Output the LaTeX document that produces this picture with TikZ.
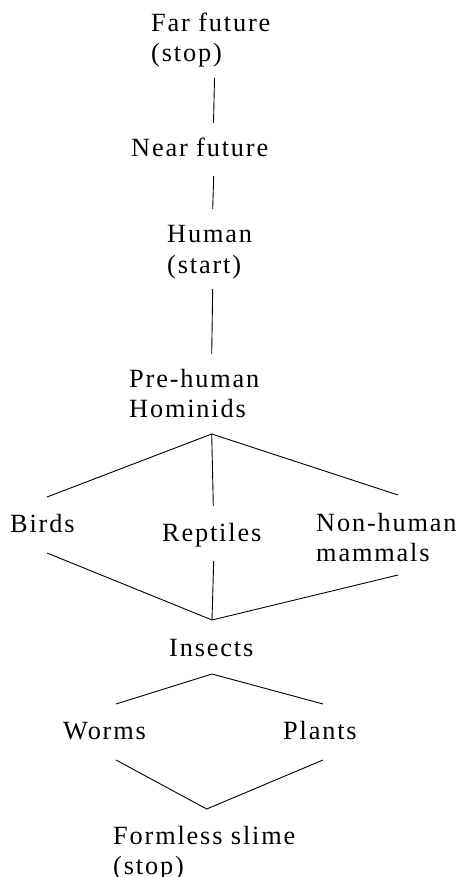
\documentclass[tikz,border=0pt]{standalone}
\usepackage{fontspec}
\setmainfont{Liberation Serif}[LetterSpace=7]
\begin{document}
\begin{tikzpicture}[x=1pt,y=-1pt,
  lbl/.style={anchor=base west,inner sep=0pt,font=\fontsize{26.3}{30}\selectfont},
  conn/.style={line width=0.9pt}]
\useasboundingbox (0,0) rectangle (460,877);
\newcommand{\twol}[2]{\begin{tabular}[t]{@{}l@{}}#1\\#2\end{tabular}}
\node[lbl] (far) at (151,32) {\twol{Far future}{(stop)}};
\node[lbl] (near) at (131,157) {Near future};
\node[lbl] (human) at (167,243) {\twol{Human}{(start)}};
\node[lbl] (pre) at (129,387) {\twol{Pre-human}{Hominids}};
\node[lbl] (birds) at (10,532) {Birds};
\node[lbl] (rept) at (162,541) {Reptiles};
\node[lbl] (nonh) at (316,531) {\twol{Non-human}{mammals}};
\node[lbl] (ins) at (169,656) {Insects};
\node[lbl] (worms) at (63,739) {Worms};
\node[lbl] (plants) at (283,739) {Plants};
\node[lbl] (slime) at (113,844) {\twol{Formless slime}{(stop)}};
% connector ends
\coordinate (far-s) at (214.5,78);
\coordinate (near-n) at (213.5,123);
\coordinate (near-s) at (213.7,176);
\coordinate (human-n) at (212.7,209);
\coordinate (human-s) at (212.7,289);
\coordinate (pre-n) at (211.7,354);
\coordinate (pre-s) at (211.7,434);
\coordinate (birds-n) at (47,497);
\coordinate (rept-n) at (213.3,506);
\coordinate (nonh-n) at (398,495);
\coordinate (birds-s) at (47,553);
\coordinate (rept-s) at (213.7,561);
\coordinate (nonh-s) at (398,575);
\coordinate (ins-n) at (212,620);
\coordinate (ins-s) at (212,674);
\coordinate (worms-n) at (116,704);
\coordinate (plants-n) at (323,704);
\coordinate (worms-s) at (116,760);
\coordinate (plants-s) at (323,760);
\coordinate (slime-n) at (206.7,809);
\draw[conn] (far-s) -- (near-n);
\draw[conn] (near-s) -- (human-n);
\draw[conn] (human-s) -- (pre-n);
\draw[conn] (birds-n) -- (pre-s) -- (nonh-n);
\draw[conn] (pre-s) -- (rept-n);
\draw[conn] (birds-s) -- (ins-n) -- (nonh-s);
\draw[conn] (rept-s) -- (ins-n);
\draw[conn] (worms-n) -- (ins-s) -- (plants-n);
\draw[conn] (worms-s) -- (slime-n) -- (plants-s);
\end{tikzpicture}
\end{document}
